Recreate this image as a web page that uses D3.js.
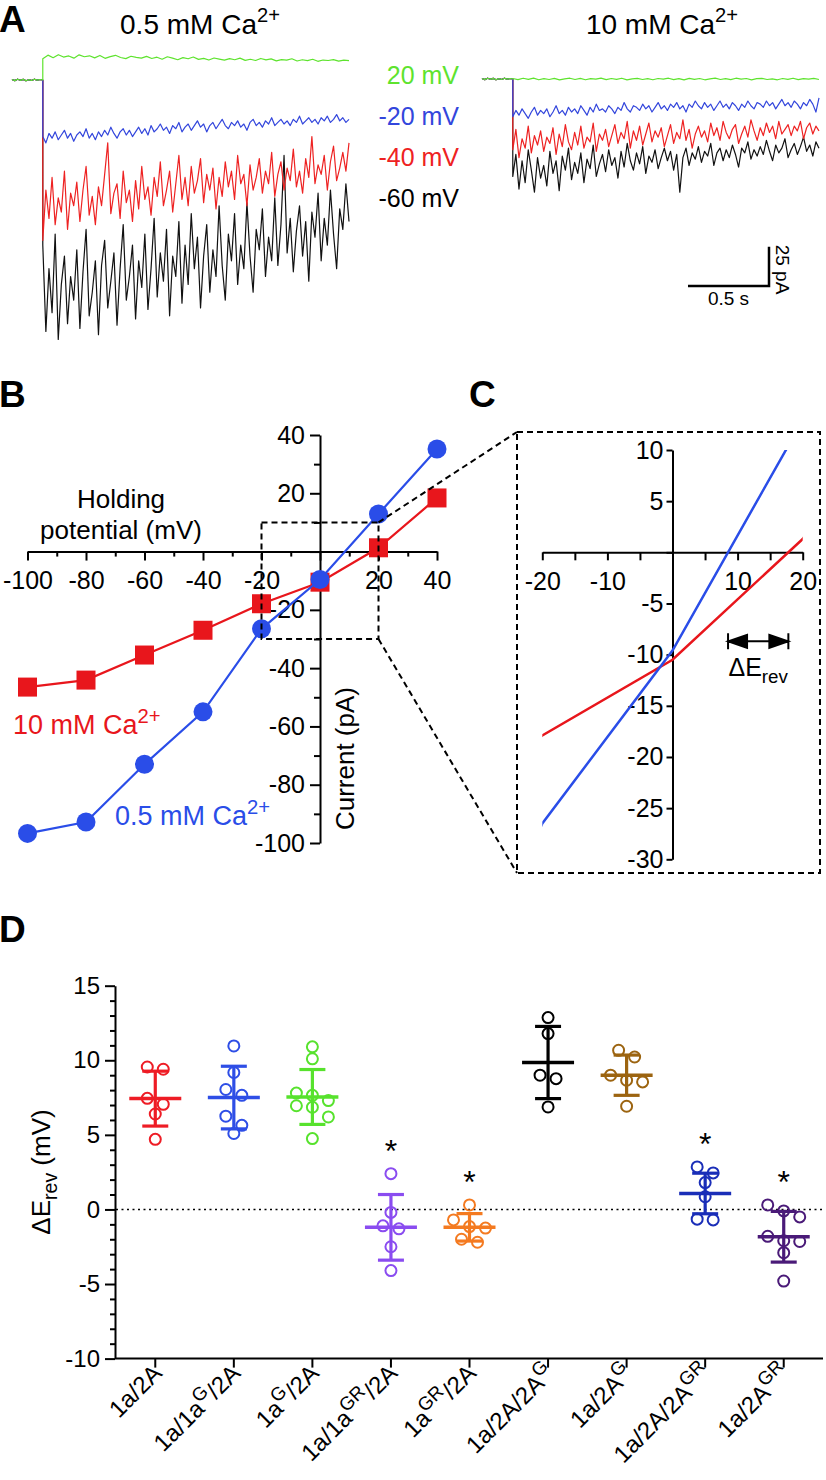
<!DOCTYPE html>
<html><head><meta charset="utf-8">
<script src="https://cdn.jsdelivr.net/npm/d3@7"></script>
<style>
body{margin:0;background:#fff}
svg{display:block}
text{font-family:"Liberation Sans",Arial,Helvetica,sans-serif;fill:#000}
</style>
</head><body>
<svg id="c" width="826" height="1480"></svg>
<script>
// ================= DATA =================
// Panel A: current traces (pA), sampled uniformly before / after the voltage step
const preDuration = 0.19;   // s
const postDuration = 1.89;  // s
const traceVoltages = ["20 mV", "-20 mV", "-40 mV", "-60 mV"];
const preStep = [0.3,-0.4,0.5,-0.2,0.4,-0.5,0.2,-0.3,0.5,-0.1,0.3,0];

const low_p20 = [13.5,15.8,14.2,16.1,14.6,15.3,13.9,16.0,14.8,15.4,
 14.1,15.6,13.8,14.9,15.7,14.3,13.6,15.1,14.4,13.9,
 15.0,13.7,14.5,13.2,14.8,13.9,12.9,14.2,13.5,14.6,
 13.1,13.8,12.7,14.0,13.3,12.6,13.6,12.9,13.9,12.5,
 13.2,12.4,13.7,12.8,13.4,12.2,13.0,12.6,13.5,12.1,
 12.9,12.3,13.2,11.9,12.7,12.4,13.0,12.0,12.6,12.3];
const low_m20 = [-36,-40,-34,-37,-33,-38,-35,-32,-37,-34,
 -39,-35,-33,-36,-31,-37,-34,-38,-33,-36,
 -32,-35,-30,-34,-37,-33,-31,-35,-32,-36,
 -33,-30,-34,-31,-35,-29,-33,-31,-28,-32,
 -30,-34,-29,-31,-27,-33,-30,-28,-32,-29,
 -26,-30,-28,-33,-29,-27,-31,-28,-25,-29,
 -31,-27,-29,-26,-30,-28,-32,-27,-25,-29,
 -27,-30,-26,-28,-24,-29,-27,-25,-28,-26,
 -29,-25,-27,-23,-28,-26,-24,-27,-25,-28,
 -24,-26,-23,-27,-25,-22,-26,-24,-27,-25];
const low_m40 = [-102,-70,-88,-62,-92,-75,-84,-58,-95,-72,
 -80,-65,-90,-70,-55,-86,-74,-92,-68,-80,
 -60,-40,-85,-72,-66,-88,-58,-78,-70,-90,
 -64,-82,-55,-76,-68,-86,-62,-74,-52,-80,
 -70,-58,-84,-66,-48,-76,-62,-80,-55,-72,
 -64,-50,-78,-60,-70,-56,-82,-62,-74,-52,
 -68,-58,-76,-48,-66,-60,-80,-54,-70,-62,
 -50,-72,-58,-66,-46,-74,-60,-52,-70,-56,
 -64,-44,-68,-58,-72,-50,-62,-36,-66,-54,
 -60,-48,-70,-52,-42,-64,-56,-46,-58,-40];
const low_m60 = [-105,-160,-120,-148,-98,-165,-130,-112,-155,-125,
 -140,-108,-158,-122,-95,-150,-135,-115,-162,-118,
 -102,-145,-128,-110,-156,-120,-92,-140,-125,-105,
 -152,-115,-132,-98,-146,-120,-88,-138,-110,-128,
 -95,-150,-112,-125,-90,-142,-105,-130,-85,-120,
 -100,-145,-112,-92,-135,-108,-125,-80,-118,-140,
 -98,-115,-85,-130,-105,-120,-78,-112,-135,-95,
 -108,-82,-125,-100,-115,-75,-118,-92,-48,-110,
 -88,-122,-96,-80,-112,-90,-128,-84,-100,-72,
 -115,-88,-105,-70,-98,-120,-82,-95,-66,-90];

const high_p20 = [0.3,-0.4,0.5,-0.2,0.6,-0.5,0.2,-0.3,0.4,-0.6,0.1,0.5,-0.3,0.4,-0.5,0.2,-0.1,0.6,-0.4,0.3,
 -0.2,0.5,-0.6,0.1,0.4,-0.3,0.2,-0.5,0.3,-0.1,0.5,-0.4,0.2,-0.6,0.4,-0.2,0.3,-0.5,0.1,0.6,
 -0.3,0.2,-0.4,0.5,-0.1,0.3,-0.6,0.2,0.4,-0.3,0.1,-0.5,0.3,-0.2,0.5,-0.4,0.2,-0.1,0.4,-0.3];
const high_m20 = [-24,-20,-23,-19,-22,-25,-21,-18,-23,-20,
 -22,-19,-24,-21,-17,-22,-20,-23,-18,-21,
 -19,-22,-17,-20,-23,-18,-21,-16,-20,-19,
 -21,-17,-19,-22,-18,-20,-15,-19,-21,-17,
 -18,-20,-16,-19,-17,-21,-18,-15,-19,-17,
 -20,-16,-18,-15,-19,-17,-21,-16,-18,-14,
 -17,-19,-15,-18,-16,-20,-17,-14,-18,-16,
 -19,-15,-17,-20,-16,-18,-14,-17,-19,-15,
 -16,-18,-14,-17,-15,-19,-16,-13,-17,-15,
 -18,-14,-16,-19,-15,-17,-13,-16,-21,-12];
const high_m40 = [-45,-32,-50,-38,-44,-30,-47,-36,-42,-33,
 -46,-37,-41,-31,-48,-35,-43,-29,-40,-45,
 -34,-42,-30,-44,-37,-40,-28,-46,-35,-39,
 -32,-43,-36,-29,-41,-34,-38,-27,-44,-33,
 -39,-30,-42,-35,-28,-40,-33,-37,-31,-43,
 -36,-29,-41,-34,-38,-26,-39,-32,-44,-35,
 -30,-37,-33,-40,-28,-36,-31,-39,-27,-34,
 -38,-32,-29,-41,-35,-30,-37,-26,-33,-39,
 -31,-36,-28,-34,-30,-38,-27,-35,-32,-29,
 -36,-30,-33,-27,-38,-31,-28,-35,-30,-33];
const high_m60 = [-62,-48,-70,-52,-66,-45,-58,-72,-50,-63,
 -55,-68,-46,-60,-52,-71,-49,-58,-44,-64,
 -53,-60,-47,-66,-51,-57,-42,-62,-54,-48,
 -59,-45,-55,-50,-63,-46,-56,-41,-52,-58,
 -47,-54,-43,-60,-49,-53,-45,-57,-50,-44,
 -52,-46,-58,-48,-72,-50,-44,-55,-47,-51,
 -43,-53,-46,-49,-41,-55,-47,-44,-52,-45,
 -50,-42,-48,-56,-44,-47,-40,-51,-45,-49,
 -43,-48,-39,-46,-52,-42,-47,-44,-38,-50,
 -45,-41,-48,-43,-37,-46,-42,-49,-40,-44];

// Panel B: I-V relation
const holdingPotential = [-100,-80,-60,-40,-20,0,20,40];
const currentLowCa  = [-96.7,-92.8,-73,-55,-26.5,-9.6,12.9,35.2];
const currentHighCa = [-46.5,-44.1,-35.5,-27,-17.9,-10.5,1.3,18.4];

// Panel D: ΔErev per construct
const constructs = ["1a/2A","1a/1a^G/2A","1a^G/2A","1a/1a^GR/2A","1a^GR/2A","1a/2A/2A^G","1a/2A^G","1a/2A/2A^GR","1a/2A^GR"];
const dE_1a_2A      = [9.55,9.4,7.45,7.05,6.4,4.7];
const dE_1a_1aG_2A  = [10.96,9.18,8.04,7.65,6.25,5.64,5.09];
const dE_1aG_2A     = [10.9,10.1,7.8,7.65,7.3,6.95,6.85,6.2,4.75];
const dE_1a_1aGR_2A = [2.4,-0.2,-1.1,-1.3,-2.5,-4.1];
const dE_1aGR_2A    = [0.3,-0.7,-1.15,-1.25,-2.0,-2.2];
const dE_1a_2A_2AG  = [12.86,11.79,9.0,8.77,6.87];
const dE_1a_2AG     = [10.67,10.22,9.0,8.66,8.55,6.92];
const dE_1a_2A_2AGR = [2.85,2.45,1.8,0.85,-0.65,-0.7];
const dE_1a_2AGR    = [0.3,-0.1,-0.5,-1.8,-2.1,-2.15,-2.9,-4.8];
const dE_mean = [7.43,7.5,7.54,-1.2,-1.2,9.85,9.0,1.07,-1.83];
const dE_sd   = [1.84,2.1,1.84,2.2,0.92,2.42,1.35,1.36,1.7];
const significant = [false,false,false,true,true,false,false,true,true];

// ================= DRAWING =================
const svg = d3.select("#c");
const colA = {green:"#5ee32e", blue:"#3346dc", red:"#ee2222", black:"#111"};
const colB = {blue:"#2a4de8", red:"#e8161c"};
const colD = ["#ee1c25","#2e4ee6","#57e22d","#8a4cf0","#f47a20","#000000","#9c6410","#1a2eb8","#4a1a78"];

function rich(sel, segs, size, ratio){
  ratio = ratio || 0.72;
  let shift = 0;
  segs.forEach(([t,m])=>{
    const target = m===1 ? -0.42*size : (m===2 ? 0.28*size : 0);
    sel.append("tspan").attr("dy", target-shift).attr("font-size", m ? size*ratio : size).text(t);
    shift = target;
  });
  return sel;
}
function panelLabel(t,x,y){
  svg.append("text").attr("x",x).attr("y",y).attr("font-size",37).attr("font-weight","bold").text(t);
}
function styleAxis(g, fs){
  g.attr("font-family",null).attr("font-size",null);
  g.selectAll("text").attr("font-size",fs).style("fill","#000");
  g.selectAll("path,line").attr("stroke","#000").attr("stroke-width",2);
}

// ---------- Panel A ----------
panelLabel("A",-1,32);
const total = preDuration + postDuration;
const xAL = d3.scaleLinear().domain([0,total]).range([12,349]);
const xAR = d3.scaleLinear().domain([0,total]).range([482,819]);
const yAL = d3.scaleLinear().domain([0,-25]).range([80,119.3]);
const yAR = d3.scaleLinear().domain([0,-25]).range([79,118.3]);
function tracePts(post){
  return preStep.map((v,i)=>[i*preDuration/(preStep.length-1), v])
    .concat(post.map((v,i)=>[preDuration + i*postDuration/(post.length-1), v]));
}
function drawTrace(x,y,post,color){
  svg.append("path").attr("d", d3.line().x(d=>x(d[0])).y(d=>y(d[1]))(tracePts(post)))
    .attr("fill","none").attr("stroke",color).attr("stroke-width",1.2).attr("stroke-linejoin","round");
}
const tracesLow  = [[low_m60,colA.black],[low_m40,colA.red],[low_m20,colA.blue],[low_p20,colA.green]];
const tracesHigh = [[high_m60,colA.black],[high_m40,colA.red],[high_m20,colA.blue],[high_p20,colA.green]];
tracesLow.forEach(([d,c])=>drawTrace(xAL,yAL,d,c));
tracesHigh.forEach(([d,c])=>drawTrace(xAR,yAR,d,c));

rich(svg.append("text").attr("x",200).attr("y",34).attr("text-anchor","middle"), [["0.5 mM Ca",0],["2+",1]], 28);
rich(svg.append("text").attr("x",662).attr("y",34).attr("text-anchor","middle"), [["10 mM Ca",0],["2+",1]], 28);
const legCols = [colA.green,colA.blue,colA.red,"#000"];
traceVoltages.forEach((t,i)=>{
  svg.append("text").attr("x",459).attr("y",84+i*41).attr("text-anchor","end")
    .attr("font-size",25).style("fill",legCols[i]).text(t);
});
// scale bar
const sbX = 769, sbY = 286;
const sbW = xAR(0.5)-xAR(0), sbH = yAR(-25)-yAR(0);
svg.append("path").attr("d",`M${sbX-sbW},${sbY}H${sbX}V${sbY-sbH}`)
  .attr("fill","none").attr("stroke","#000").attr("stroke-width",2.5);
svg.append("text").attr("x",sbX-sbW/2).attr("y",sbY+19).attr("text-anchor","middle").attr("font-size",19).text("0.5 s");
svg.append("text").attr("transform",`translate(${sbX+7},${sbY-sbH-2}) rotate(90)`).attr("font-size",19).text("25 pA");

// ---------- Panel B ----------
panelLabel("B",-1,407);
panelLabel("C",469,407);
const xB = d3.scaleLinear().domain([-100,40]).range([27.5,437]);
const yB = d3.scaleLinear().domain([-100,40]).range([843,435]);
const gBx = svg.append("g").attr("transform",`translate(0,${yB(0)})`)
  .call(d3.axisBottom(xB).tickValues(d3.range(-100,41,10)).tickSize(9).tickSizeOuter(0).tickPadding(11)
  .tickFormat(d=>(d%20===0 && d!==0)?String(d):""));
gBx.selectAll(".tick line").filter(d=>d%20!==0).attr("y2",5);
styleAxis(gBx,25);
const gBy = svg.append("g").attr("transform",`translate(${xB(0)},0)`)
  .call(d3.axisLeft(yB).tickValues(d3.range(-100,41,10)).tickSize(10).tickSizeOuter(0).tickPadding(5)
  .tickFormat(d=>(d%20===0 && d!==0)?String(d):""));
gBy.selectAll(".tick line").filter(d=>d%20!==0).attr("x2",-6);
styleAxis(gBy,25);

const ivLow = holdingPotential.map((v,i)=>[v,currentLowCa[i]]);
const ivHigh = holdingPotential.map((v,i)=>[v,currentHighCa[i]]);
const lineB = d3.line().x(d=>xB(d[0])).y(d=>yB(d[1]));
svg.append("path").attr("d",lineB(ivHigh)).attr("fill","none").attr("stroke",colB.red).attr("stroke-width",2.2);
svg.selectAll(null).data(ivHigh).enter().append("rect")
  .attr("x",d=>xB(d[0])-9.5).attr("y",d=>yB(d[1])-9.5).attr("width",19).attr("height",19).attr("fill",colB.red);
svg.append("path").attr("d",lineB(ivLow)).attr("fill","none").attr("stroke",colB.blue).attr("stroke-width",2.2);
svg.selectAll(null).data(ivLow).enter().append("circle")
  .attr("cx",d=>xB(d[0])).attr("cy",d=>yB(d[1])).attr("r",9.5).attr("fill",colB.blue);

svg.append("text").attr("x",121).attr("y",508).attr("text-anchor","middle").attr("font-size",26).text("Holding");
svg.append("text").attr("x",121).attr("y",539).attr("text-anchor","middle").attr("font-size",26).text("potential (mV)");
const tRed = rich(svg.append("text").attr("x",13).attr("y",734),[["10 mM Ca",0],["2+",1]],27,0.75);
tRed.selectAll("tspan").style("fill",colB.red);
const tBlue = rich(svg.append("text").attr("x",115).attr("y",825),[["0.5 mM Ca",0],["2+",1]],27,0.75);
tBlue.selectAll("tspan").style("fill",colB.blue);
svg.append("text").attr("transform","translate(354,687) rotate(-90)").attr("text-anchor","end").attr("font-size",26).text("Current (pA)");

// zoom rectangle + connectors
const zx0 = xB(-20), zx1 = xB(20), zy0 = yB(10), zy1 = yB(-30);
const dash = "6,4";
svg.append("rect").attr("x",zx0).attr("y",zy0).attr("width",zx1-zx0).attr("height",zy1-zy0)
  .attr("fill","none").attr("stroke","#000").attr("stroke-width",2).attr("stroke-dasharray",dash);
const boxC = {x0:517,y0:432,x1:820,y1:873};
svg.append("line").attr("x1",zx1).attr("y1",zy0).attr("x2",boxC.x0).attr("y2",boxC.y0)
  .attr("stroke","#000").attr("stroke-width",2).attr("stroke-dasharray",dash);
svg.append("line").attr("x1",zx1).attr("y1",zy1).attr("x2",boxC.x0).attr("y2",boxC.y1)
  .attr("stroke","#000").attr("stroke-width",2).attr("stroke-dasharray",dash);
svg.append("rect").attr("x",boxC.x0).attr("y",boxC.y0).attr("width",boxC.x1-boxC.x0).attr("height",boxC.y1-boxC.y0)
  .attr("fill","none").attr("stroke","#000").attr("stroke-width",2).attr("stroke-dasharray",dash);

// ---------- Panel C ----------
const xC = d3.scaleLinear().domain([-20,20]).range([542.3,802.7]);
const yC = d3.scaleLinear().domain([-30,10]).range([859.3,450]);
const gCx = svg.append("g").attr("transform",`translate(0,${yC(0)})`)
  .call(d3.axisBottom(xC).tickValues(d3.range(-20,21,5)).tickSize(8).tickSizeOuter(0).tickPadding(12)
  .tickFormat(d=>(d%10===0 && d!==0)?String(d):""));
styleAxis(gCx,25);
const gCy = svg.append("g").attr("transform",`translate(${xC(0)},0)`)
  .call(d3.axisLeft(yC).tickValues(d3.range(-30,11,5)).tickSize(6).tickSizeOuter(0).tickPadding(3)
  .tickFormat(d=>d!==0?String(d):""));
styleAxis(gCy,25);
svg.append("clipPath").attr("id","clipC").append("rect")
  .attr("x",xC(-20)).attr("y",yC(10)).attr("width",xC(20)-xC(-20)).attr("height",yC(-30)-yC(10));
const lineC = d3.line().x(d=>xC(d[0])).y(d=>yC(d[1]));
svg.append("path").attr("d",lineC(ivHigh)).attr("clip-path","url(#clipC)").attr("fill","none").attr("stroke",colB.red).attr("stroke-width",2.5);
svg.append("path").attr("d",lineC(ivLow)).attr("clip-path","url(#clipC)").attr("fill","none").attr("stroke",colB.blue).attr("stroke-width",2.5);
function zeroCross(ys){
  for(let i=0;i<holdingPotential.length-1;i++){
    if(ys[i]<=0 && ys[i+1]>0){
      return holdingPotential[i] + (0-ys[i])*(holdingPotential[i+1]-holdingPotential[i])/(ys[i+1]-ys[i]);
    }
  }
}
const eLow = zeroCross(currentLowCa), eHigh = zeroCross(currentHighCa);
const ay = yC(-8.7), ax0 = xC(eLow), ax1 = xC(eHigh);
svg.append("line").attr("x1",ax0).attr("x2",ax1).attr("y1",ay).attr("y2",ay).attr("stroke","#000").attr("stroke-width",2);
svg.append("path").attr("d",`M${ax0},${ay}l19,-6.5v13z M${ax1},${ay}l-19,-6.5v13z M${ax0},${ay-8}v16 M${ax1},${ay-8}v16`)
  .attr("fill","#000").attr("stroke","#000").attr("stroke-width",2);
rich(svg.append("text").attr("x",(ax0+ax1)/2).attr("y",676).attr("text-anchor","middle"),[["ΔE",0],["rev",2]],25,0.75);

// ---------- Panel D ----------
panelLabel("D",-1,942);
const yD = d3.scaleLinear().domain([-10,15]).range([1358.6,985.7]);
const xD = d3.scaleBand().domain(constructs).range([116,823]);
const cx = c => xD(c)+xD.bandwidth()/2;
const gDy = svg.append("g").attr("transform","translate(115,0)")
  .call(d3.axisLeft(yD).tickValues(d3.range(-10,16,1)).tickSize(10).tickSizeOuter(0).tickPadding(5)
  .tickFormat(d=>d%5===0?String(d):""));
gDy.selectAll(".tick line").filter(d=>d%5!==0).attr("x2",-5);
styleAxis(gDy,24);
const gDx = svg.append("g").attr("transform",`translate(0,${yD(-10)})`)
  .call(d3.axisBottom(xD).tickSize(9).tickSizeOuter(0).tickFormat(""));
styleAxis(gDx,22);
gDx.select(".domain").attr("d",`M115,0H823`);
// zero line
svg.append("line").attr("x1",116).attr("x2",823).attr("y1",yD(0)).attr("y2",yD(0))
  .attr("stroke","#000").attr("stroke-width",1.6).attr("stroke-dasharray","2,3.5");
// y label
rich(svg.append("text").attr("transform","translate(50,1172) rotate(-90)").attr("text-anchor","middle"),
  [["ΔE",0],["rev",2],[" (mV)",0]],26,0.75);
// x labels
constructs.forEach(c=>{
  const parts = c.split(/\^([A-Z]+)/);
  const segs = parts.map((p,i)=>[p, i%2]).filter(s=>s[0]!=="");
  rich(svg.append("text").attr("transform",`translate(${cx(c)+8},${yD(-10)+16}) rotate(-45)`).attr("text-anchor","end"), segs, 24, 0.78);
});
// groups
const groupValues = [dE_1a_2A,dE_1a_1aG_2A,dE_1aG_2A,dE_1a_1aGR_2A,dE_1aGR_2A,dE_1a_2A_2AG,dE_1a_2AG,dE_1a_2A_2AGR,dE_1a_2AGR];
function swarm(vals, thr, gap){
  const sorted = vals.slice().sort((a,b)=>b-a);
  const bins = [];
  sorted.forEach(v=>{
    const last = bins[bins.length-1];
    if(last && last[0]-v <= thr) last.push(v); else bins.push([v]);
  });
  const out = [];
  bins.forEach(b=>b.forEach((v,k)=>out.push({v, dx:(k-(b.length-1)/2)*gap})));
  return out;
}
constructs.forEach((c,i)=>{
  const g = svg.append("g");
  const col = colD[i], x0 = cx(c), m = dE_mean[i], s = dE_sd[i];
  g.append("line").attr("x1",x0).attr("x2",x0).attr("y1",yD(m+s)).attr("y2",yD(m-s)).attr("stroke",col).attr("stroke-width",3.2);
  g.append("line").attr("x1",x0-26).attr("x2",x0+26).attr("y1",yD(m)).attr("y2",yD(m)).attr("stroke",col).attr("stroke-width",3.5);
  [m+s,m-s].forEach(v=>g.append("line").attr("x1",x0-13).attr("x2",x0+13).attr("y1",yD(v)).attr("y2",yD(v)).attr("stroke",col).attr("stroke-width",3.2));
  g.selectAll("circle").data(swarm(groupValues[i],0.8,16)).enter().append("circle")
    .attr("cx",d=>x0+d.dx).attr("cy",d=>yD(d.v)).attr("r",5.5)
    .attr("fill","none").attr("stroke",col).attr("stroke-width",2);
  if(significant[i]){
    const top = d3.max(groupValues[i]);
    svg.append("text").attr("x",x0).attr("y",yD(top)-12).attr("text-anchor","middle").attr("font-size",32).text("*");
  }
});
</script>
</body></html>
